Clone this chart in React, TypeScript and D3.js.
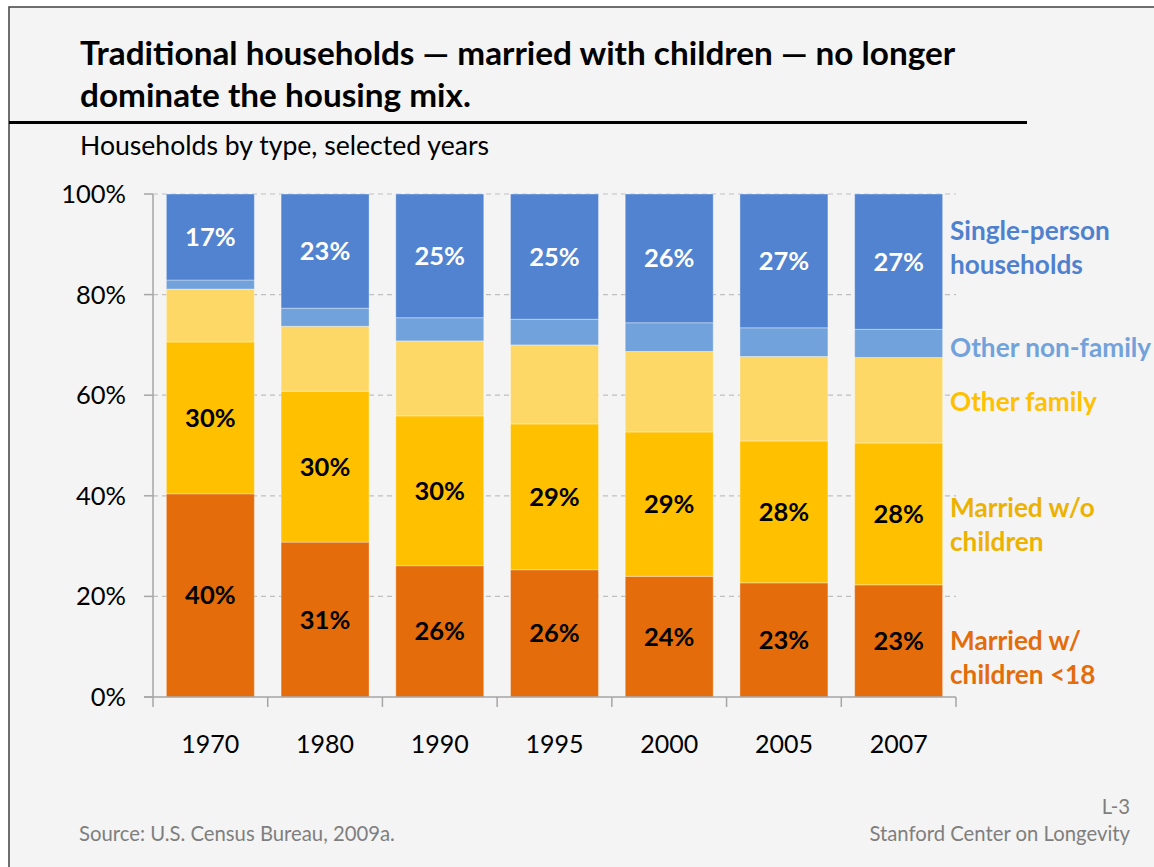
import React from "react";
import * as d3 from "d3";

const years = ["1970", "1980", "1990", "1995", "2000", "2005", "2007"];
const marriedWithChildren = [40.4, 30.8, 26.1, 25.3, 24.0, 22.7, 22.3];
const marriedNoChildren = [30.2, 30.0, 29.8, 29.0, 28.7, 28.2, 28.2];
const otherFamily = [10.5, 12.9, 14.9, 15.7, 16.0, 16.8, 17.0];
const otherNonFamily = [1.8, 3.6, 4.6, 5.1, 5.7, 5.7, 5.6];
const singlePerson = [17.1, 22.7, 24.6, 24.9, 25.6, 26.6, 26.9];

const labelsMWC = ["40%", "31%", "26%", "26%", "24%", "23%", "23%"];
const labelsMNC = ["30%", "30%", "30%", "29%", "29%", "28%", "28%"];
const labelsSingle = ["17%", "23%", "25%", "25%", "26%", "27%", "27%"];

const yTicks = [0, 20, 40, 60, 80, 100];

const seriesKeys = ["mwc", "mnc", "of", "onf", "sp"];
const seriesColors: Record<string, string> = {
  mwc: "#E46C0A",
  mnc: "#FFC000",
  of: "#FED866",
  onf: "#72A2DB",
  sp: "#5183D0",
};

const legendItems = [
  { lines: ["Single-person", "households"], color: "#4F81CF", y: 231 },
  { lines: ["Other non-family"], color: "#72A2DB", y: 348 },
  { lines: ["Other family"], color: "#FFC000", y: 402 },
  { lines: ["Married w/o", "children"], color: "#EDB200", y: 508 },
  { lines: ["Married w/", "children <18"], color: "#E46C0A", y: 641 },
];

const FONT = "Lato, 'Open Sans', sans-serif";

export default function App() {
  const W = 1154;
  const H = 867;
  const x0 = 153;
  const x1 = 956;
  const yTop = 194;
  const yBot = 697;

  const table = years.map((yr, i) => ({
    year: yr,
    mwc: marriedWithChildren[i],
    mnc: marriedNoChildren[i],
    of: otherFamily[i],
    onf: otherNonFamily[i],
    sp: singlePerson[i],
  }));

  const x = d3
    .scaleBand<string>()
    .domain(years)
    .range([x0, x1])
    .paddingInner(0.233)
    .paddingOuter(0.1165);
  const y = d3.scaleLinear().domain([0, 100]).range([yBot, yTop]);
  const stack = d3.stack<any>().keys(seriesKeys);
  const stacked = stack(table as any);
  const step = x.step();
  const bw = x.bandwidth();

  const labelMap: Record<string, { texts: string[]; fill: string }> = {
    mwc: { texts: labelsMWC, fill: "#000" },
    mnc: { texts: labelsMNC, fill: "#000" },
    sp: { texts: labelsSingle, fill: "#fff" },
  };

  return (
    <svg
      width={W}
      height={H}
      style={{ position: "absolute", left: 0, top: 0, display: "block" }}
      fontFamily={FONT}
    >
      <rect x={0} y={0} width={W} height={H} fill="#ffffff" />
      <rect x={9} y={7} width={W + 10} height={H + 10} fill="#F4F4F4" stroke="#404040" strokeWidth={1.5} />
      <line x1={9} x2={1027} y1={122.5} y2={122.5} stroke="#000" strokeWidth={3} />

      <text x={80} y={65} fontSize={33.3} fontWeight={700} fill="#000">
        Traditional households — married with children — no longer
      </text>
      <text x={80} y={107} fontSize={33.3} fontWeight={700} fill="#000">
        dominate the housing mix.
      </text>
      <text x={80} y={155} fontSize={26.6} fill="#000">
        Households by type, selected years
      </text>

      {/* gridlines */}
      {yTicks.filter((t) => t > 0).map((t) => (
        <line key={t} x1={x0} x2={x1} y1={y(t)} y2={y(t)} stroke="#BFBFBF" strokeWidth={1.2} strokeDasharray="5,4" />
      ))}

      {/* bars */}
      {stacked.map((s) =>
        s.map((d, i) => (
          <rect
            key={s.key + i}
            x={x(years[i])}
            y={y(d[1])}
            width={bw}
            height={y(d[0]) - y(d[1])}
            fill={seriesColors[s.key]}
            stroke="#ffffff"
            strokeOpacity={0.35}
            strokeWidth={1}
          />
        ))
      )}

      {/* data labels */}
      {stacked
        .filter((s) => labelMap[s.key])
        .map((s) =>
          s.map((d, i) => (
            <text
              key={"l" + s.key + i}
              x={(x(years[i]) as number) + bw / 2}
              y={(y(d[0]) + y(d[1])) / 2 + 9}
              textAnchor="middle"
              fontSize={25.5}
              fontWeight={700}
              fill={labelMap[s.key].fill}
            >
              {labelMap[s.key].texts[i]}
            </text>
          ))
        )}

      {/* y axis */}
      <line x1={x0} x2={x0} y1={yTop} y2={yBot} stroke="#A6A6A6" strokeWidth={1.5} />
      {yTicks.map((t) => (
        <g key={"yt" + t}>
          <line x1={x0 - 9} x2={x0} y1={y(t)} y2={y(t)} stroke="#A6A6A6" strokeWidth={1.5} />
          <text x={126} y={y(t) + 9} textAnchor="end" fontSize={25.5} fill="#000">
            {t}%
          </text>
        </g>
      ))}

      {/* x axis */}
      <line x1={x0 - 9} x2={x1} y1={yBot} y2={yBot} stroke="#A6A6A6" strokeWidth={1.5} />
      {d3.range(years.length + 1).map((i) => (
        <line key={"xt" + i} x1={x0 + i * step} x2={x0 + i * step} y1={yBot} y2={yBot + 10} stroke="#A6A6A6" strokeWidth={1.5} />
      ))}
      {years.map((yr) => (
        <text key={"xl" + yr} x={(x(yr) as number) + bw / 2} y={753} textAnchor="middle" fontSize={25} fill="#000">
          {yr}
        </text>
      ))}

      {/* legend */}
      {legendItems.map((it) =>
        it.lines.map((ln, j) => (
          <text key={ln} x={950} y={it.y + 9 + j * 34} fontSize={26.2} fontWeight={700} fill={it.color}>
            {ln}
          </text>
        ))
      )}

      {/* footer */}
      <text x={79} y={841} fontSize={20.3} fill="#7F7F7F">
        Source: U.S. Census Bureau, 2009a.
      </text>
      <text x={1130} y={814} textAnchor="end" fontSize={20.3} fill="#7F7F7F">
        L-3
      </text>
      <text x={1130} y={841} textAnchor="end" fontSize={20.3} fill="#7F7F7F">
        Stanford Center on Longevity
      </text>
    </svg>
  );
}
